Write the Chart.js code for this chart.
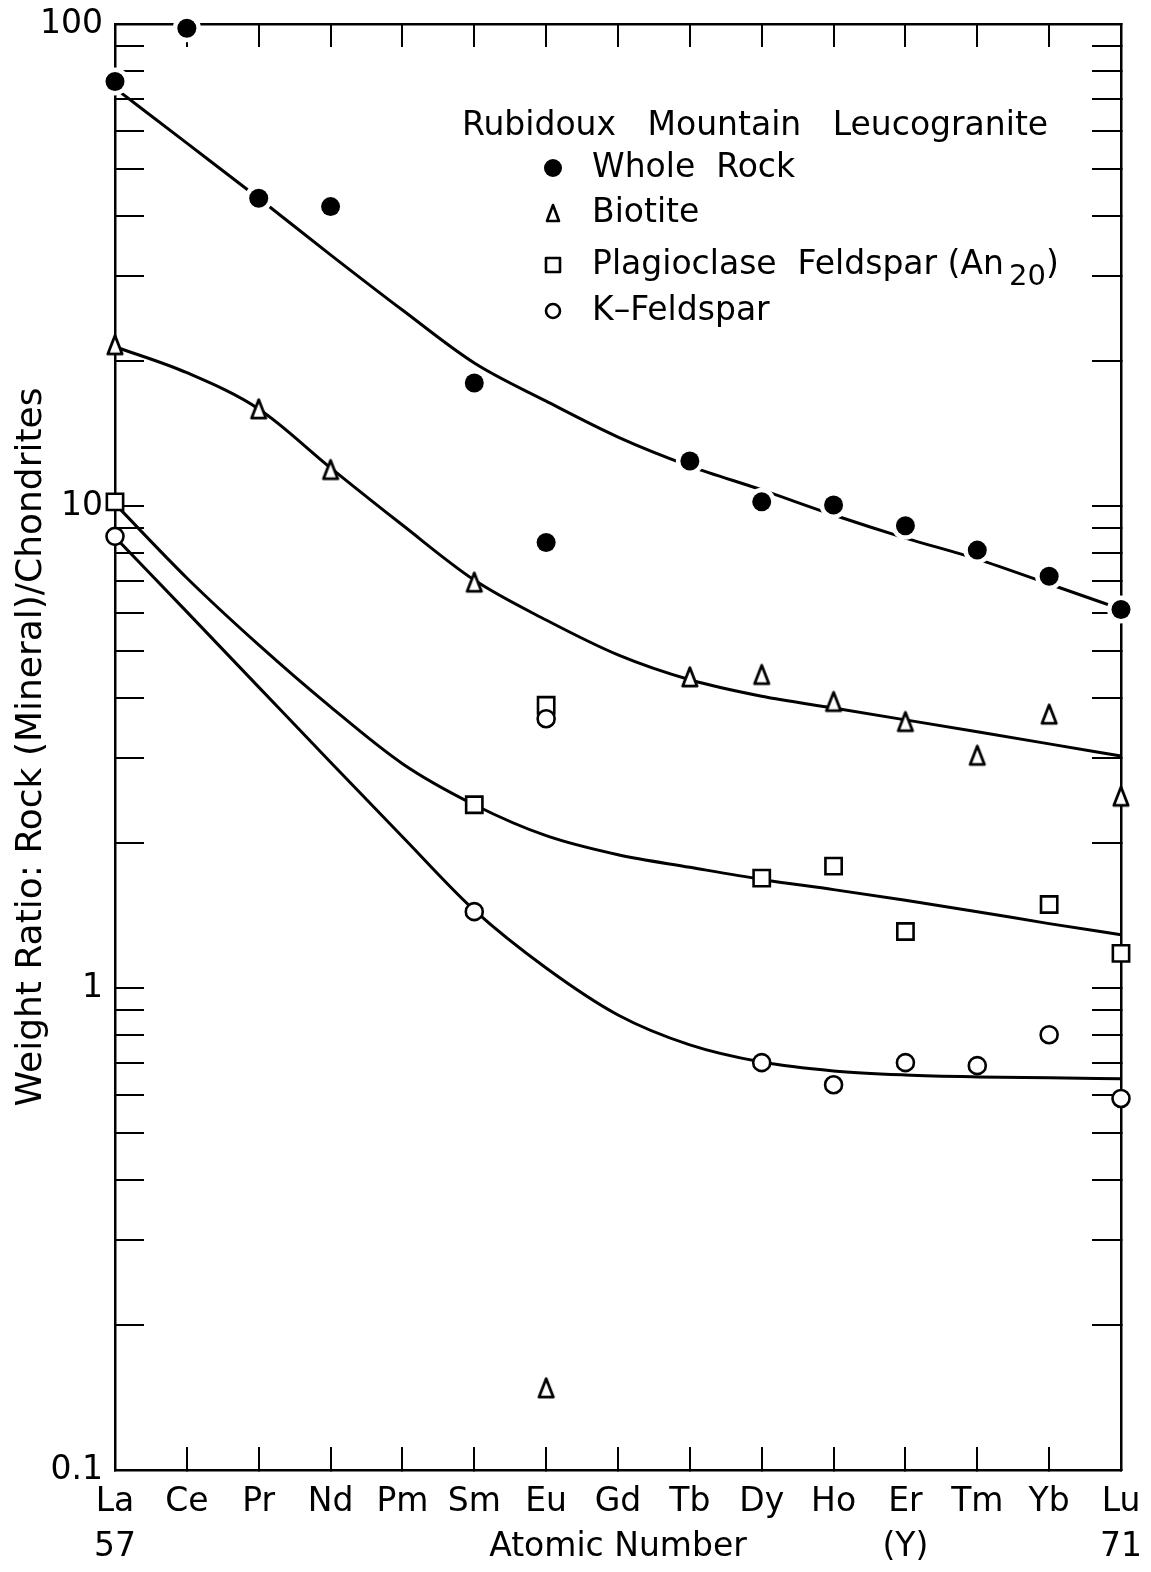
<!DOCTYPE html>
<html>
<head>
<meta charset="utf-8">
<title>Rubidoux Mountain Leucogranite</title>
<script src="https://cdn.jsdelivr.net/npm/chart.js@4.4.0/dist/chart.umd.min.js"></script>
<style>
  html, body { margin: 0; padding: 0; background: #fff; }
  canvas { display: block; }
</style>
</head>
<body>
<canvas id="chartRee" width="1151" height="1572"></canvas>
<script>
// Unsur tanah jarang, nomor atom 57..71
const elements = ['La', 'Ce', 'Pr', 'Nd', 'Pm', 'Sm', 'Eu', 'Gd', 'Tb', 'Dy', 'Ho', 'Er', 'Tm', 'Yb', 'Lu'];
const secondLine = ['57', '', '', '', '', '', '', '', '', '', '', '(Y)', '', '', '71'];

// Titik data: rasio batuan (mineral) / kondrit
const wholeRock   = [76, 98, 43.5, 41.8, null, 18.0, 8.4, null, 12.4, 10.2, 10.05, 9.1, 8.1, 7.15, 6.1];
const biotite     = [21.6, null, 15.9, 11.9, null, 6.95, 0.148, null, 4.42, 4.47, 3.93, 3.57, 3.04, 3.7, 2.5];
const plagioclase = [10.2, null, null, null, null, 2.4, 3.86, null, null, 1.69, 1.79, 1.31, null, 1.49, 1.18];
const kFeldspar   = [8.65, null, null, null, null, 1.44, 3.62, null, null, 0.70, 0.63, 0.70, 0.69, 0.80, 0.59];

// Kurva halus yang digambar di atas titik
const wholeRockFit   = [73.6, 56.6, 43.5, 33.2, 25.5, 19.8, 16.5, 13.9, 12.1, 10.8, 9.58, 8.58, 7.76, 6.89, 6.11];
const biotiteFit     = [21.4, 18.9, 15.9, 12.0, 9.13, 7.02, 5.80, 4.91, 4.36, 4.03, 3.81, 3.60, 3.40, 3.21, 3.03];
const plagioclaseFit = [10.1, 7.09, 5.15, 3.83, 2.92, 2.40, 2.07, 1.89, 1.78, 1.68, 1.60, 1.52, 1.44, 1.36, 1.29];
const kFeldsparFit   = [8.62, 6.03, 4.21, 2.94, 2.06, 1.45, 1.10, 0.879, 0.762, 0.702, 0.673, 0.660, 0.654, 0.651, 0.648];

// Tick sumbu Y (log)
const yTicks = [0.1, 0.2, 0.3, 0.4, 0.5, 0.6, 0.7, 0.8, 0.9, 1, 2, 3, 4, 5, 6, 7, 8, 9,
                10, 20, 30, 40, 50, 60, 70, 80, 90, 100];
const yLabels = ['0.1', '1', '10', '100'];

const FONT = 'DejaVu Sans';

// segitiga sempit buat biotit
function makeTriangle(w, h, lw) {
  const c = document.createElement('canvas');
  c.width = w; c.height = h;
  const g = c.getContext('2d');
  g.lineWidth = lw;
  g.lineJoin = 'round';
  g.beginPath();
  g.moveTo(w / 2, lw);
  g.lineTo(w - lw, h - lw);
  g.lineTo(lw, h - lw);
  g.closePath();
  g.fillStyle = '#fff';
  g.fill();
  g.strokeStyle = '#000';
  g.stroke();
  return c;
}
const triBig = makeTriangle(20, 24, 2.8);

// buang padding label supaya area plot pas
const noPadX = s => { s.paddingLeft = 0; s.paddingRight = 0; };
const noPadY = s => { s.paddingTop = 0; s.paddingBottom = 0; };

// Legenda di dalam area grafik
const legendPlugin = {
  id: 'legendBox',
  afterDraw(chart) {
    const c = chart.ctx;
    c.save();
    c.fillStyle = '#000';
    c.strokeStyle = '#000';
    c.textBaseline = 'middle';
    c.textAlign = 'left';
    c.font = '33px "' + FONT + '"';
    c.fillText('Rubidoux   Mountain   Leucogranite', 462, 126);

    const mx = 553, tx = 592;
    // Whole rock
    c.beginPath(); c.arc(mx, 168, 9, 0, Math.PI * 2); c.fill();
    c.fillText('Whole  Rock', tx, 168);
    // Biotite
    c.lineWidth = 2.6;
    c.lineJoin = 'round';
    c.beginPath(); c.moveTo(mx, 205); c.lineTo(mx + 6, 221); c.lineTo(mx - 6, 221); c.closePath(); c.stroke();
    c.fillText('Biotite', tx, 213);
    // Plagioclase
    c.strokeRect(mx - 7, 258, 14, 14);
    let s = 'Plagioclase  Feldspar (An';
    c.fillText(s, tx, 265);
    let w = c.measureText(s).width;
    c.font = '29px "' + FONT + '"';
    c.fillText('20', tx + w + 5, 277);
    let w2 = c.measureText('20').width;
    c.font = '33px "' + FONT + '"';
    c.fillText(')', tx + w + w2 + 5, 265);
    // K-feldspar
    c.beginPath(); c.arc(mx, 311, 7, 0, Math.PI * 2); c.stroke();
    c.fillText('K\u2013Feldspar', tx, 311);
    c.restore();
  }
};

const ctx = document.getElementById('chartRee');
if (ctx) {
  new Chart(ctx, {
    type: 'line',
    data: {
      labels: elements,
      datasets: [
        {
          label: 'Whole Rock', data: wholeRock, showLine: false, order: 0, clip: false,
          pointRadius: 9.5, pointStyle: 'circle', pointBackgroundColor: '#000', pointBorderWidth: 0
        },
        {
          label: 'Biotite', data: biotite, showLine: false, order: 0, clip: false,
          pointRadius: 10, pointStyle: triBig
        },
        {
          label: 'K-Feldspar', data: kFeldspar, showLine: false, order: 0, clip: false,
          pointRadius: 8.5, pointStyle: 'circle', pointBackgroundColor: '#fff',
          pointBorderColor: '#000', pointBorderWidth: 2.6
        },
        {
          label: 'Plagioclase Feldspar (An20)', data: plagioclase, showLine: false, order: 0, clip: false,
          pointRadius: 11.5, pointStyle: 'rect', pointBackgroundColor: '#fff',
          pointBorderColor: '#000', pointBorderWidth: 2.6
        },
        {
          // celah putih di sekitar titik hitam
          label: 'halo', data: wholeRock, showLine: false, order: 1, clip: false,
          pointRadius: 14, pointStyle: 'circle', pointBackgroundColor: '#fff', pointBorderWidth: 0
        },
        { label: 'fit1', data: wholeRockFit, order: 2, borderColor: '#000', borderWidth: 3, pointRadius: 0, cubicInterpolationMode: 'monotone', clip: false },
        { label: 'fit2', data: biotiteFit, order: 2, borderColor: '#000', borderWidth: 3, pointRadius: 0, cubicInterpolationMode: 'monotone', clip: false },
        { label: 'fit3', data: plagioclaseFit, order: 2, borderColor: '#000', borderWidth: 3, pointRadius: 0, cubicInterpolationMode: 'monotone', clip: false },
        { label: 'fit4', data: kFeldsparFit, order: 2, borderColor: '#000', borderWidth: 3, pointRadius: 0, cubicInterpolationMode: 'monotone', clip: false }
      ]
    },
    options: {
      responsive: false,
      animation: false,
      events: [],
      layout: { padding: 0 },
      plugins: {
        legend: { display: false },
        tooltip: { enabled: false }
      },
      scales: {
        x: {
          type: 'category',
          position: 'bottom',
          afterFit: s => { s.height = 102; noPadX(s); },
          grid: { drawOnChartArea: false, drawTicks: true, tickLength: -23, color: '#000', lineWidth: 2, offset: false },
          border: { color: '#000', width: 2.5 },
          ticks: {
            autoSkip: false, maxRotation: 0, padding: 32.5, color: '#000',
            font: { family: FONT, size: 33, lineHeight: 1.364 },
            callback: (v, i) => secondLine[i] ? [elements[i], secondLine[i]] : elements[i]
          },
          title: {
            display: true, text: 'Atomic Number', color: '#000',
            font: { family: FONT, size: 33, lineHeight: 1.2 }, padding: { top: 0, bottom: 5 }
          }
        },
        x2: {
          type: 'category',
          position: 'top',
          afterFit: s => { s.height = 24; noPadX(s); },
          grid: { drawOnChartArea: false, drawTicks: true, tickLength: -23, color: '#000', lineWidth: 2, offset: false },
          border: { color: '#000', width: 2.5 },
          ticks: { display: false }
        },
        y: {
          type: 'logarithmic',
          position: 'left',
          min: 0.1, max: 100,
          afterBuildTicks: s => { s.ticks = yTicks.map(v => ({ value: v })); },
          afterFit: s => { s.width = 115; noPadY(s); },
          grid: { drawOnChartArea: false, drawTicks: true, tickLength: -29, color: '#000', lineWidth: 2 },
          border: { color: '#000', width: 2.5 },
          ticks: {
            autoSkip: false, padding: 41, color: '#000',
            font: { family: FONT, size: 33 },
            callback: v => yLabels.includes(String(v)) ? String(v) : ''
          },
          title: {
            display: true, text: 'Weight Ratio: Rock (Mineral)/Chondrites', color: '#000',
            font: { family: FONT, size: 36, lineHeight: 1.2 }, padding: { top: 10, bottom: 0 }
          }
        },
        y2: {
          type: 'logarithmic',
          position: 'right',
          min: 0.1, max: 100,
          afterBuildTicks: s => { s.ticks = yTicks.map(v => ({ value: v })); },
          afterFit: s => { s.width = 30; noPadY(s); },
          grid: { drawOnChartArea: false, drawTicks: true, tickLength: -29, color: '#000', lineWidth: 2 },
          border: { color: '#000', width: 2.5 },
          ticks: { display: false }
        }
      }
    },
    plugins: [legendPlugin]
  });
}
</script>
</body>
</html>
